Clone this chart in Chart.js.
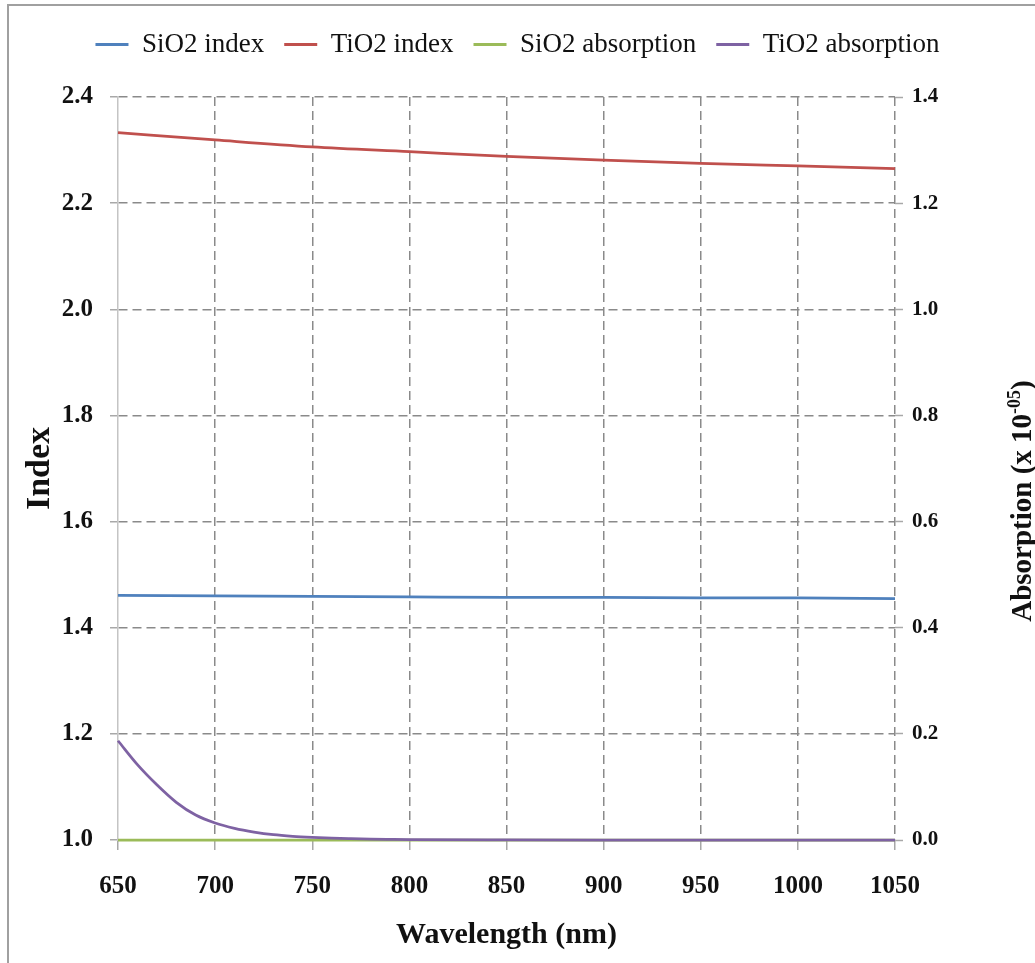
<!DOCTYPE html>
<html>
<head>
<meta charset="utf-8">
<script src="https://cdn.jsdelivr.net/npm/chart.js@4.4.0/dist/chart.umd.min.js"></script>
<style>
html,body{margin:0;padding:0;background:#fff;}
canvas{display:block;}
</style>
</head>
<body>
<canvas id="c" width="1035" height="963"></canvas>
<script>
// ---- data ----
const seriesNames = ['SiO2 index', 'TiO2 index', 'SiO2 absorption', 'TiO2 absorption'];
const wavelengths = [650, 700, 750, 800, 850, 900, 950, 1000, 1050];
const sio2Index = [1.461, 1.460, 1.459, 1.458, 1.457, 1.457, 1.456, 1.456, 1.455];
const tio2Index = [2.333, 2.319, 2.306, 2.297, 2.288, 2.281, 2.275, 2.270, 2.265];
const sio2Absorption = [0, 0, 0, 0, 0, 0, 0, 0, 0];
const absWavelengths = [650, 660, 670, 680, 690, 700, 710, 720, 730, 740, 750, 760, 770, 780, 790, 800, 850, 900, 950, 1000, 1050];
const tio2Absorption = [0.187, 0.142, 0.104, 0.071, 0.047, 0.032, 0.022, 0.015, 0.010, 0.007, 0.005, 0.0035, 0.0025, 0.0017, 0.0012, 0.0008, 0.0002, 0, 0, 0, 0];
const xTitle = 'Wavelength (nm)';
const yTitle = 'Index';
const y1TitleMain = 'Absorption (x 10';
const y1TitleSup = '-05';
const y1TitleEnd = ')';

// ---- styling ----
const FONT = "'Liberation Serif', 'Times New Roman', serif";
const colors = ['#4f81bd', '#c0504d', '#9bbb59', '#7e62a3'];
const drawOrder = [1, 1, 2, 0];
const W = 1035, H = 963;
const plotLeft = 118, plotRight = 895, plotTop = 97, plotBottom = 840;
const padTop = 11;
const gridColor = '#8a8a8a';
const axisColor = '#c4c4c4';
const tickColor = '#a8a8a8';

const toPts = (xs, ys) => xs.map((x, i) => ({x: x, y: ys[i]}));

const framePlugin = {
  id: 'frame',
  beforeDraw(chart) {
    const c = chart.ctx;
    c.save();
    c.fillStyle = '#fff';
    c.fillRect(0, 0, W, H);
    c.strokeStyle = '#a0a0a0';
    c.lineWidth = 2;
    c.strokeRect(8, 5, 1200, 1200);
    c.restore();
  }
};

const legendHeightPlugin = {
  id: 'legendHeight',
  beforeLayout(chart) {
    const lg = chart.legend;
    if (lg && !lg.__patched) {
      const f = lg.fit;
      lg.fit = function () { f.call(this); this.height = plotTop - padTop; };
      lg.__patched = true;
    }
  }
};

const rightTitlePlugin = {
  id: 'rightTitle',
  afterDraw(chart) {
    const c = chart.ctx;
    c.save();
    c.translate(1031, 501);
    c.rotate(-Math.PI / 2);
    c.fillStyle = '#111';
    c.textBaseline = 'alphabetic';
    c.textAlign = 'left';
    const big = 'bold 29px ' + FONT, small = 'bold 18px ' + FONT;
    c.font = big;
    const w1 = c.measureText(y1TitleMain).width;
    const w3 = c.measureText(y1TitleEnd).width;
    c.font = small;
    const w2 = c.measureText(y1TitleSup).width;
    let x = -(w1 + w2 + w3) / 2;
    c.font = big; c.fillText(y1TitleMain, x, 0); x += w1;
    c.font = small; c.fillText(y1TitleSup, x, -11); x += w2;
    c.font = big; c.fillText(y1TitleEnd, x, 0);
    c.restore();
  }
};

const datasets = [
  {label: seriesNames[0], data: toPts(wavelengths, sio2Index), yAxisID: 'y'},
  {label: seriesNames[1], data: toPts(wavelengths, tio2Index), yAxisID: 'y'},
  {label: seriesNames[2], data: toPts(wavelengths, sio2Absorption), yAxisID: 'y1'},
  {label: seriesNames[3], data: toPts(absWavelengths, tio2Absorption), yAxisID: 'y1'}
].map((d, i) => Object.assign(d, {
  borderColor: colors[i],
  backgroundColor: colors[i],
  borderWidth: 2.75,
  pointRadius: 0,
  pointHoverRadius: 0,
  cubicInterpolationMode: 'monotone',
  clip: 4,
  order: drawOrder[i],
  fill: false
}));

new Chart(document.getElementById('c'), {
  type: 'line',
  data: {datasets: datasets},
  plugins: [framePlugin, legendHeightPlugin, rightTitlePlugin],
  options: {
    responsive: false,
    animation: false,
    events: [],
    layout: {padding: {top: padTop, left: 0, right: 0, bottom: 0}},
    plugins: {
      tooltip: {enabled: false},
      legend: {
        display: true,
        position: 'top',
        labels: {
          color: '#111',
          font: {family: FONT, size: 27, weight: 'normal'},
          boxWidth: 33,
          boxHeight: 3,
          padding: 20,
          sort: (a, b) => a.datasetIndex - b.datasetIndex,
          generateLabels(chart) {
            return Chart.defaults.plugins.legend.labels.generateLabels(chart).map(it => Object.assign(it, {lineWidth: 0}));
          }
        }
      }
    },
    scales: {
      x: {
        type: 'linear',
        position: 'bottom',
        min: 650, max: 1050,
        afterFit(s) { s.height = H - plotBottom; },
        ticks: {stepSize: 50, color: '#111', padding: 22, maxRotation: 0,
          font: {family: FONT, size: 25, weight: 'bold'},
          callback: v => String(v)},
        grid: {
          color: ctx => ctx.index === 0 ? 'rgba(0,0,0,0)' : gridColor,
          lineWidth: 1.5, tickLength: 10, tickColor: tickColor, tickWidth: 1.5, tickBorderDash: []
        },
        border: {display: true, color: axisColor, width: 1.5, dash: [9, 5]},
        title: {display: true, text: xTitle, color: '#111',
          font: {family: FONT, size: 30, weight: 'bold'}, padding: {top: 0, bottom: 10}}
      },
      y: {
        type: 'linear',
        position: 'left',
        min: 1.0, max: 2.4,
        afterFit(s) { s.width = plotLeft; },
        ticks: {stepSize: 0.2, color: '#111', padding: 17,
          font: {family: FONT, size: 25, weight: 'bold'},
          callback: v => Number(v).toFixed(1)},
        grid: {
          color: ctx => ctx.index === 0 ? 'rgba(0,0,0,0)' : gridColor,
          lineWidth: 1.5, tickLength: 8, tickColor: tickColor, tickWidth: 1.5, tickBorderDash: []
        },
        border: {display: true, color: axisColor, width: 1.5, dash: [9, 5]},
        title: {display: true, text: yTitle, color: '#111',
          font: {family: FONT, size: 34, weight: 'bold'}, padding: {top: 20, bottom: 0}}
      },
      y1: {
        type: 'linear',
        position: 'right',
        min: 0, max: 1.4,
        afterFit(s) { s.width = W - plotRight; },
        ticks: {stepSize: 0.2, color: '#111', padding: 9,
          font: {family: FONT, size: 21, weight: 'bold'},
          callback: v => Number(v).toFixed(1)},
        grid: {drawOnChartArea: false, tickLength: 8, tickColor: tickColor, tickWidth: 1.5, tickBorderDash: []},
        border: {display: false}
      }
    }
  }
});
</script>
</body>
</html>
